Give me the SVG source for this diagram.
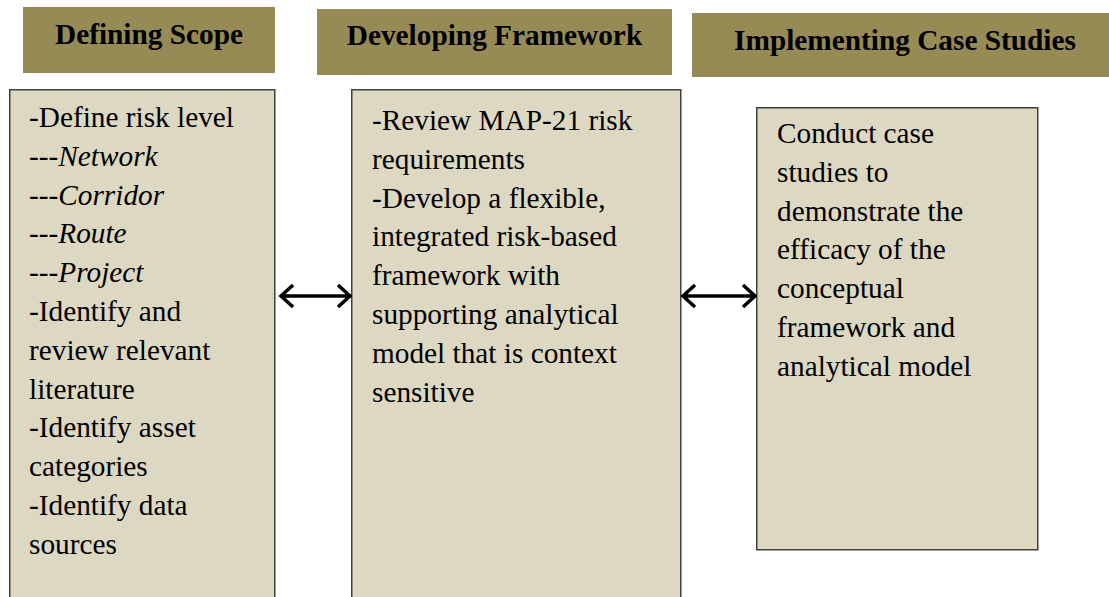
<svg xmlns="http://www.w3.org/2000/svg" width="1109" height="597" viewBox="0 0 1109 597">
<style>
.hdr{fill:#968A55}
.box{fill:#DDD8C2;stroke:#404040;stroke-width:1.5}
.ht{font-family:"Liberation Serif",serif;font-weight:bold;font-size:29.3px;fill:#000}
.bt{font-family:"Liberation Serif",serif;font-size:29.3px;fill:#000}
.it{font-style:italic}
.conn{stroke:#000;stroke-width:3.5;fill:none}
</style>
<rect width="1109" height="597" fill="#fff"/>
<g id="header-scope"><rect class="hdr" x="23" y="7" width="252" height="66"/><text class="ht" x="149" y="44" text-anchor="middle">Defining Scope</text></g>
<g id="header-framework"><rect class="hdr" x="317" y="9" width="355" height="66"/><text class="ht" x="494.5" y="45" text-anchor="middle">Developing Framework</text></g>
<g id="header-case"><rect class="hdr" x="692" y="13" width="418" height="64"/><text class="ht" x="905" y="50" text-anchor="middle">Implementing Case Studies</text></g>
<g id="box-scope"><rect class="box" x="9.75" y="89.75" width="265" height="520"/>
<text class="bt" x="29" y="127">-Define risk level</text>
<text class="bt it" x="29" y="165.8">---Network</text>
<text class="bt it" x="29" y="204.6">---Corridor</text>
<text class="bt it" x="29" y="243.4">---Route</text>
<text class="bt it" x="29" y="282.2">---Project</text>
<text class="bt" x="29" y="321">-Identify and</text>
<text class="bt" x="29" y="359.8">review relevant</text>
<text class="bt" x="29" y="398.6">literature</text>
<text class="bt" x="29" y="437.4">-Identify asset</text>
<text class="bt" x="29" y="476.2">categories</text>
<text class="bt" x="29" y="515">-Identify data</text>
<text class="bt" x="29" y="553.8">sources</text>
</g>
<g id="box-framework"><rect class="box" x="351.75" y="89.75" width="329" height="520"/>
<text class="bt" x="372" y="130">-Review MAP-21 risk</text>
<text class="bt" x="372" y="168.8">requirements</text>
<text class="bt" x="372" y="207.6">-Develop a flexible,</text>
<text class="bt" x="372" y="246.4">integrated risk-based</text>
<text class="bt" x="372" y="285.2">framework with</text>
<text class="bt" x="372" y="324">supporting analytical</text>
<text class="bt" x="372" y="362.8">model that is context</text>
<text class="bt" x="372" y="401.6">sensitive</text>
</g>
<g id="box-case"><rect class="box" x="756.75" y="107.75" width="281" height="442"/>
<text class="bt" x="777" y="143">Conduct case</text>
<text class="bt" x="777" y="181.8">studies to</text>
<text class="bt" x="777" y="220.6">demonstrate the</text>
<text class="bt" x="777" y="259.4">efficacy of the</text>
<text class="bt" x="777" y="298.2">conceptual</text>
<text class="bt" x="777" y="337">framework and</text>
<text class="bt" x="777" y="375.8">analytical model</text>
</g>
<g id="connectors">
<path class="conn" d="M281 296 H350 M293 285 L281 296 L293 307 M338 285 L350 296 L338 307"/>
<path class="conn" d="M683 296 H755 M695 285 L683 296 L695 307 M743 285 L755 296 L743 307"/>
</g>
</svg>
